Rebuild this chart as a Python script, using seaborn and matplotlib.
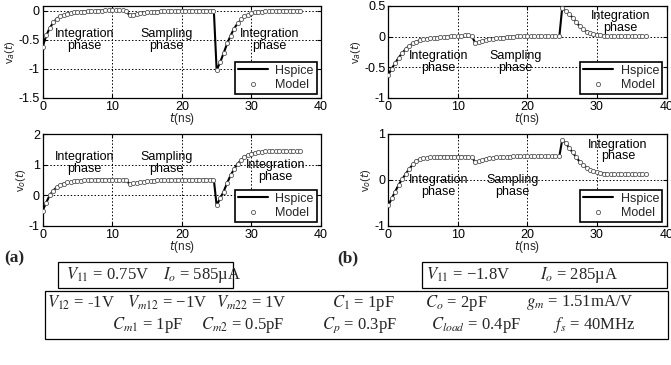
import matplotlib
matplotlib.use("Agg")
import matplotlib.pyplot as plt
import seaborn as sns
from matplotlib.patches import Rectangle

# ---------------- data ----------------
# Hspice curves (key points, ns)
t_hspice = [0, 0.5, 1, 1.5, 2, 2.5, 3, 4, 5, 6, 8, 10, 12, 12.5, 13, 14, 16, 18, 20,
            24.6, 25.0, 25.5, 26, 26.5, 27, 27.5, 28, 29, 30, 31, 32, 34, 37]
va_a_hspice = [-0.62, -0.43, -0.30, -0.21, -0.14, -0.10, -0.075, -0.04, -0.025, -0.015, 0.0,
               0.01, 0.0, -0.09, -0.07, -0.045, -0.02, -0.008, 0.0, 0.0, -1.02, -0.89, -0.73,
               -0.57, -0.43, -0.31, -0.22, -0.10, -0.045, -0.02, -0.01, 0.0, 0.0]
vo_a_hspice = [-0.50, -0.24, 0.0, 0.15, 0.26, 0.33, 0.38, 0.44, 0.47, 0.49, 0.51, 0.51, 0.50,
               0.36, 0.39, 0.43, 0.48, 0.50, 0.51, 0.51, -0.33, -0.10, 0.12, 0.40, 0.65, 0.85,
               1.03, 1.25, 1.36, 1.41, 1.43, 1.44, 1.44]
va_b_hspice = [-0.62, -0.52, -0.43, -0.34, -0.27, -0.20, -0.15, -0.08, -0.045, -0.025, -0.005,
               0.01, 0.01, -0.10, -0.09, -0.055, -0.02, 0.0, 0.01, 0.01, 0.47, 0.42, 0.37, 0.31,
               0.24, 0.17, 0.12, 0.055, 0.03, 0.015, 0.01, 0.01, 0.01]
vo_b_hspice = [-0.55, -0.40, -0.25, -0.10, 0.02, 0.13, 0.24, 0.42, 0.47, 0.49, 0.51, 0.51, 0.50,
               0.39, 0.41, 0.46, 0.49, 0.51, 0.52, 0.52, 0.87, 0.80, 0.70, 0.60, 0.50, 0.40,
               0.33, 0.22, 0.17, 0.14, 0.12, 0.12, 0.12]

# Model samples (every 0.5 ns)
t_model = [0.0, 0.5, 1.0, 1.5, 2.0, 2.5, 3.0, 3.5, 4.0, 4.5,
           5.0, 5.5, 6.0, 6.5, 7.0, 7.5, 8.0, 8.5, 9.0, 9.5,
           10.0, 10.5, 11.0, 11.5, 12.0, 12.5, 13.0, 13.5, 14.0, 14.5,
           15.0, 15.5, 16.0, 16.5, 17.0, 17.5, 18.0, 18.5, 19.0, 19.5,
           20.0, 20.5, 21.0, 21.5, 22.0, 22.5, 23.0, 23.5, 24.0, 24.5,
           25.0, 25.5, 26.0, 26.5, 27.0, 27.5, 28.0, 28.5, 29.0, 29.5,
           30.0, 30.5, 31.0, 31.5, 32.0, 32.5, 33.0, 33.5, 34.0, 34.5,
           35.0, 35.5, 36.0, 36.5, 37.0]
va_a_model = [-0.62, -0.42, -0.30, -0.20, -0.14, -0.10, -0.075, -0.055, -0.04, -0.03,
              -0.025, -0.02, -0.015, -0.01, -0.008, -0.005, 0.0, 0.0, 0.005, 0.005,
              0.01, 0.01, 0.01, 0.01, 0.0, -0.08, -0.07, -0.055, -0.045, -0.035,
              -0.03, -0.025, -0.02, -0.015, -0.012, -0.01, -0.008, -0.005, -0.003, 0.0,
              0.0, 0.0, 0.0, 0.0, 0.0, 0.0, 0.0, 0.0, 0.0, 0.0,
              -1.02, -0.88, -0.72, -0.56, -0.43, -0.31, -0.22, -0.15, -0.10, -0.07,
              -0.045, -0.03, -0.02, -0.015, -0.01, -0.005, 0.0, 0.0, 0.0, 0.0,
              0.0, 0.0, 0.0, 0.0, 0.0]
vo_a_model = [-0.50, -0.25, 0.0, 0.15, 0.26, 0.33, 0.38, 0.42, 0.44, 0.46,
              0.47, 0.48, 0.49, 0.49, 0.50, 0.50, 0.51, 0.51, 0.51, 0.51,
              0.51, 0.51, 0.51, 0.51, 0.50, 0.37, 0.39, 0.41, 0.43, 0.45,
              0.46, 0.47, 0.48, 0.485, 0.49, 0.495, 0.50, 0.51, 0.51, 0.51,
              0.51, 0.51, 0.51, 0.51, 0.51, 0.51, 0.51, 0.51, 0.51, 0.51,
              -0.33, -0.10, 0.12, 0.40, 0.65, 0.85, 1.03, 1.15, 1.25, 1.32,
              1.36, 1.39, 1.41, 1.42, 1.43, 1.44, 1.44, 1.44, 1.44, 1.44,
              1.44, 1.44, 1.44, 1.44, 1.44]
va_b_model = [-0.62, -0.52, -0.43, -0.34, -0.27, -0.20, -0.15, -0.11, -0.08, -0.06,
              -0.045, -0.035, -0.025, -0.02, -0.015, -0.01, -0.005, 0.0, 0.005, 0.01,
              0.01, 0.015, 0.02, 0.02, 0.01, -0.10, -0.09, -0.07, -0.055, -0.045,
              -0.035, -0.028, -0.02, -0.015, -0.01, -0.005, 0.0, 0.01, 0.01, 0.01,
              0.01, 0.01, 0.01, 0.01, 0.01, 0.01, 0.01, 0.01, 0.01, 0.01,
              0.47, 0.42, 0.37, 0.31, 0.24, 0.17, 0.12, 0.08, 0.055, 0.04,
              0.03, 0.02, 0.01, 0.01, 0.01, 0.01, 0.01, 0.01, 0.01, 0.01,
              0.01, 0.01, 0.01, 0.01, 0.01]
vo_b_model = [-0.55, -0.40, -0.25, -0.10, 0.02, 0.13, 0.24, 0.35, 0.42, 0.45,
              0.47, 0.48, 0.49, 0.49, 0.50, 0.50, 0.51, 0.51, 0.51, 0.51,
              0.51, 0.51, 0.51, 0.51, 0.50, 0.39, 0.41, 0.44, 0.46, 0.47,
              0.48, 0.49, 0.49, 0.50, 0.50, 0.51, 0.52, 0.52, 0.52, 0.52,
              0.52, 0.52, 0.52, 0.52, 0.52, 0.52, 0.52, 0.52, 0.52, 0.52,
              0.87, 0.80, 0.70, 0.60, 0.50, 0.40, 0.33, 0.27, 0.22, 0.19,
              0.17, 0.15, 0.14, 0.13, 0.12, 0.12, 0.12, 0.12, 0.12, 0.12,
              0.12, 0.12, 0.12, 0.12, 0.12]

x_ticks = [0, 10, 20, 30, 40]
series_names = ["Hspice", "Model"]
phase_int = "Integration\nphase"
phase_samp = "Sampling\nphase"

# ---------------- style ----------------
sns.set_style("ticks")
plt.rcParams["font.family"] = ["Liberation Sans", "DejaVu Sans"]
plt.rcParams["mathtext.fontset"] = "dejavusans"

W, H = 671, 365
fig = plt.figure(figsize=(W / 100, H / 100), dpi=100)


def ax_at(x0, y0, x1, y1):
    return fig.add_axes([x0 / W, 1 - y1 / H, (x1 - x0) / W, (y1 - y0) / H])


def panel(ax, y_h, y_m, ylim, yticks, ytlabels, ylabel, texts):
    sns.lineplot(x=t_hspice, y=y_h, ax=ax, color="black", linewidth=1.5,
                 label=series_names[0], sort=False, estimator=None, zorder=2)
    sns.scatterplot(x=t_model, y=y_m, ax=ax, marker="o", s=9, facecolor="white",
                    edgecolor="#555555", linewidth=0.6, label=series_names[1], zorder=3)
    ax.set_xlim(0, 40)
    ax.set_ylim(*ylim)
    ax.set_xticks(x_ticks)
    ax.set_yticks(yticks)
    ax.set_yticklabels(ytlabels)
    ax.grid(True, color="black", linestyle=(0, (1.5, 2.0)), linewidth=0.7)
    ax.tick_params(direction="in", top=True, right=True, length=3, width=0.8,
                   labelsize=9, pad=2, colors="black")
    for s in ax.spines.values():
        s.set_color("black")
        s.set_linewidth(0.9)
    ax.set_xlabel(r"$t$(ns)", fontsize=8.5, labelpad=-1)
    ax.set_ylabel(ylabel, fontsize=8, labelpad=1)
    for (tx, ty, s) in texts:
        ax.text(tx, ty, s, ha="center", va="center", fontsize=9, linespacing=0.95,
                color="black")
    leg = ax.legend(loc="lower right", fontsize=9, frameon=True, fancybox=False,
                    edgecolor="black", borderpad=0.25, handlelength=2.4,
                    handletextpad=0.6, labelspacing=0.15, borderaxespad=0.35,
                    markerscale=1.0)
    leg.get_frame().set_linewidth(1.2)
    leg.get_frame().set_alpha(1)


ax1 = ax_at(42.7, 6, 321, 98)
panel(ax1, va_a_hspice, va_a_model, (-1.5, 0.08), [-1.5, -1, -0.5, 0],
      ["-1.5", "-1", "-0.5", "0"], r"v$_a$($t$)",
      [(6.0, -0.5, phase_int), (17.8, -0.5, phase_samp), (32.6, -0.5, phase_int)])

ax2 = ax_at(42.7, 134, 321, 226)
panel(ax2, vo_a_hspice, vo_a_model, (-1, 2), [-1, 0, 1, 2],
      ["-1", "0", "1", "2"], r"v$_o$($t$)",
      [(6.0, 1.06, phase_int), (17.8, 1.06, phase_samp), (33.5, 0.8, phase_int)])

ax3 = ax_at(388.3, 6, 666.5, 98)
panel(ax3, va_b_hspice, va_b_model, (-1, 0.5), [-1, -0.5, 0, 0.5],
      ["-1", "-0.5", "0", "0.5"], r"v$_a$($t$)",
      [(7.2, -0.41, phase_int), (18.3, -0.41, phase_samp), (33.4, 0.24, phase_int)])

ax4 = ax_at(388.3, 134, 666.5, 226)
panel(ax4, vo_b_hspice, vo_b_model, (-1, 1), [-1, 0, 1],
      ["-1", "0", "1"], r"v$_o$($t$)",
      [(7.2, -0.13, phase_int), (17.8, -0.13, phase_samp), (33.0, 0.64, phase_int)])

# ---------------- parameter boxes ----------------
serif = ["Liberation Serif", "DejaVu Serif"]


def ftext(px, py, s, size=12, weight="normal", ha="left"):
    fig.text(px / W, 1 - py / H, s, fontsize=size, family=serif, weight=weight,
             ha=ha, va="center", math_fontfamily="stix")


def fbox(x0, y0, x1, y1):
    fig.patches.append(Rectangle((x0 / W, 1 - y1 / H), (x1 - x0) / W, (y1 - y0) / H,
                                 transform=fig.transFigure, fill=False,
                                 edgecolor="black", linewidth=0.9))


ftext(4, 258, "(a)", size=12.5, weight="bold")
ftext(337, 258, "(b)", size=12.5, weight="bold")

fbox(58, 262, 233, 288)
ftext(66, 275, r"$V_{11}$ = 0.75V")
ftext(163, 275, r"$I_o$ = 585µA")

fbox(422, 262, 667, 288)
ftext(426, 275, r"$V_{11}$ = −1.8V")
ftext(540, 275, r"$I_o$ = 285µA")

fbox(45, 291, 668, 339)
row1 = [(47, r"$V_{12}$ = -1V"), (127, r"$V_{m12}$ = −1V"), (216, r"$V_{m22}$ = 1V"),
        (332, r"$C_1$ = 1pF"), (425, r"$C_o$ = 2pF"), (526, r"$g_m$ = 1.51mA/V")]
row2 = [(112, r"$C_{m1}$ = 1pF"), (201, r"$C_{m2}$ = 0.5pF"), (322, r"$C_p$ = 0.3pF"),
        (431, r"$C_{load}$ = 0.4pF"), (553, r"$f_s$ = 40MHz")]
for px, s in row1:
    ftext(px, 303, s)
for px, s in row2:
    ftext(px, 325, s)

fig.savefig("out.png", dpi=100)
